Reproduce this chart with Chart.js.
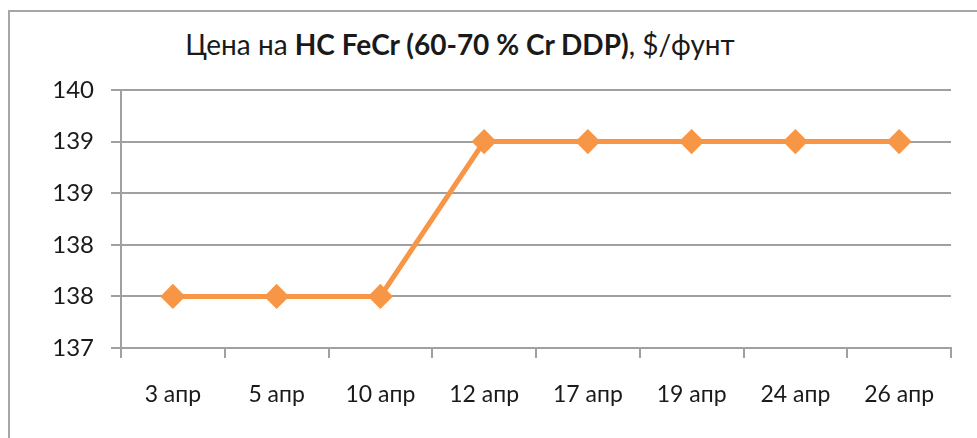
<!DOCTYPE html>
<html>
<head>
<meta charset="utf-8">
<script src="https://cdn.jsdelivr.net/npm/chart.js@4.4.0/dist/chart.umd.min.js"></script>
<style>
  html, body { margin: 0; padding: 0; background: #fff; }
  #wrap { position: relative; width: 977px; height: 438px; overflow: hidden; }
  #frame { position: absolute; left: 8px; top: 10px; width: 1000px; height: 500px;
           border-left: 2px solid #a6a6a6; border-top: 2px solid #a6a6a6; }
  #title { position: absolute; left: 0; top: 27px; width: 920px; text-align: center;
           font-family: Lato, sans-serif; font-size: 28px; color: #1a1a1a; }
  #title b { font-weight: 700; }
  #c { position: absolute; left: 0; top: 0; }
</style>
</head>
<body>
<div id="wrap">
  <div id="frame"></div>
  <div id="title">Цена на <b>HC FeCr (60-70 % Cr DDP)</b>, $/фунт</div>
  <canvas id="c" width="977" height="438"></canvas>
</div>
<script>
// данные графика
const dates = ['3 апр', '5 апр', '10 апр', '12 апр', '17 апр', '19 апр', '24 апр', '26 апр'];
const prices = [137.5, 137.5, 137.5, 139, 139, 139, 139, 139];
const yMin = 137;
const yMax = 139.5;
const yStep = 0.5;

const gridColor = '#a0a0a0';
const lineColor = '#f79646';

new Chart(document.getElementById('c').getContext('2d'), {
    type: 'line',
    data: {
        labels: dates,
        datasets: [{
            data: prices,
            borderColor: lineColor,
            backgroundColor: lineColor,
            borderWidth: 5,
            pointStyle: 'rectRot',
            pointRadius: 9,
            pointHoverRadius: 9,
            tension: 0
        }]
    },
    options: {
        responsive: false,
        animation: false,
        layout: { padding: { left: 0, top: 90, right: 26, bottom: 0 } },
        plugins: {
            legend: { display: false },
            tooltip: { enabled: false }
        },
        scales: {
            x: {
                offset: true,
                grid: { offset: true, drawOnChartArea: false, drawTicks: true, tickLength: 10,
                        color: gridColor, lineWidth: 2 },
                border: { color: gridColor, width: 2 },
                ticks: { color: '#1a1a1a', padding: 23, maxRotation: 0,
                         font: { family: 'Lato', size: 23 } },
                afterFit: (scale) => { scale.height = 90; }
            },
            y: {
                min: yMin,
                max: yMax,
                grid: { color: gridColor, lineWidth: 2, tickLength: 10 },
                border: { color: gridColor, width: 2 },
                ticks: {
                    stepSize: yStep,
                    color: '#1a1a1a',
                    padding: 17,
                    font: { family: 'Lato', size: 24 },
                    callback: (v) => Math.round(v)
                },
                afterFit: (scale) => { scale.width = 121; }
            }
        }
    }
});
</script>
</body>
</html>
